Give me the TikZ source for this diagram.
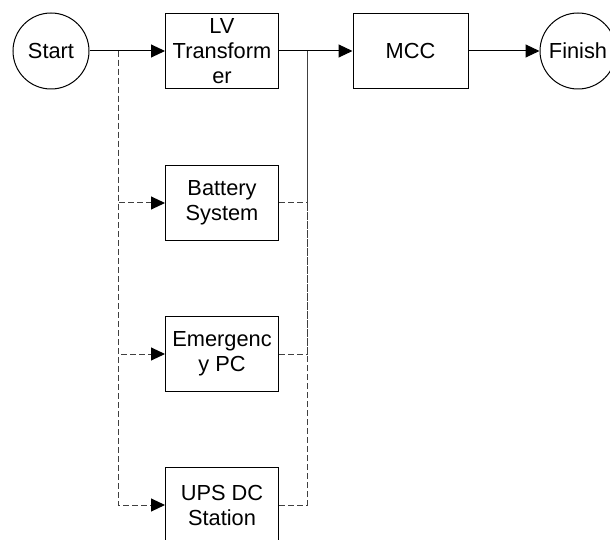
\documentclass[tikz,border=0pt]{standalone}
\usepackage{fontspec}
\setmainfont{Liberation Sans}
\usetikzlibrary{arrows.meta}

\begin{document}
\begin{tikzpicture}
[
	x=1pt, y=-1pt,
	>={Triangle[length=14pt,width=13pt,color=black]},
	endpt/.style={circle,draw,line width=1pt,inner sep=0pt,minimum size=76pt,
		font=\fontsize{21.8}{25}\selectfont},
	unit/.style={rectangle,draw,line width=1pt,inner sep=0pt,minimum width=113pt,
		minimum height=75pt,align=center,font=\fontsize{21.8}{25}\selectfont},
	feed/.style={line width=1pt},
	spare/.style={line width=1pt,black!75,dash pattern=on 6pt off 3pt}
]

	\clip (0,0) rectangle (610,540);

	% start, finish
	\node[endpt] at (51,51) (start) {Start};
	\node[endpt] at (578,51) (finish) {Finish};

	% supply units
	\node[unit] at (222,51) (lvtr) {LV\\Transform\\er};
	\node[unit] at (222,203) (battery) {Battery\\System};
	\node[unit] at (222,354) (emergency) {Emergenc\\y PC};
	\node[unit] at (222,505) (ups) {UPS DC\\Station};
	\node[unit,minimum width=115pt] at (410.5,51) (mcc) {MCC};

	% split points
	\coordinate (lsplit) at (118,51);
	\coordinate (rsplit) at (307,51);

	% main feed
	\draw[feed,->] (start.east) -- (lvtr.west);
	\draw[feed,->] (lvtr.east) -- (mcc.west);
	\draw[feed,->] (mcc.east) -- (finish.west);

	% spare feeds
	\draw[spare,->] (lsplit) |- (battery.west);
	\draw[spare,->] (lsplit) |- (emergency.west);
	\draw[spare,->] (lsplit) |- (ups.west);
	%
	\draw[spare] (battery.east) -| (rsplit);
	\draw[spare] (emergency.east) -| (rsplit);
	\draw[spare] (ups.east) -| (rsplit);

\end{tikzpicture}
\end{document}
